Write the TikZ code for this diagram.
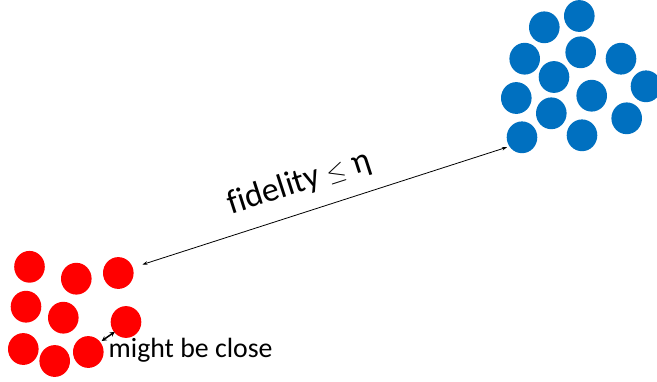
\documentclass[tikz,border=0pt]{standalone}
\usepackage{fontspec}
\setmainfont{Carlito}[Ligatures=NoCommon]
\usetikzlibrary{shapes.geometric,arrows.meta}
\definecolor{dotblue}{HTML}{0070C0}
\definecolor{dotred}{HTML}{FF0000}
\tikzset{
  dot/.style={ellipse,inner sep=0pt,minimum width=30.6pt,minimum height=31.8pt,draw=none},
  bluedot/.style={dot,fill=dotblue},
  reddot/.style={dot,fill=dotred},
  link/.style={line width=0.8pt,{Stealth[length=5pt,width=3.5pt]}-{Stealth[length=5pt,width=3.5pt]}},
  near/.style={line width=1.5pt,{Stealth[length=5pt,width=5pt]}-{Stealth[length=5pt,width=5pt]}},
  biglabel/.style={inner sep=0pt,font=\fontsize{34}{40}\selectfont},
  smalllabel/.style={inner sep=0pt,font=\fontsize{27.8}{32}\selectfont}
}
\begin{document}
\begin{tikzpicture}[x=1pt,y=-1pt]
\useasboundingbox (0,0) rectangle (657,381);
% blue cluster
\node[bluedot] (b1) at (544.3,27.3) {};
\node[bluedot] (b2) at (579.3,16) {};
\node[bluedot] (b3) at (524.7,58.7) {};
\node[bluedot] (b4) at (580.7,52.3) {};
\node[bluedot] (b5) at (621,58.7) {};
\node[bluedot] (b6) at (554,77) {};
\node[bluedot] (b7) at (646,86.3) {};
\node[bluedot] (b8) at (516.3,98) {};
\node[bluedot] (b9) at (591.7,95.7) {};
\node[bluedot] (b10) at (551.3,113.3) {};
\node[bluedot] (b11) at (626.7,118.3) {};
\node[bluedot] (b12) at (522,137.3) {};
\node[bluedot] (b13) at (582,135.3) {};
% red cluster
\node[reddot] (r1) at (29.5,266.8) {};
\node[reddot] (r2) at (76.3,278.7) {};
\node[reddot] (r3) at (118.3,273) {};
\node[reddot] (r4) at (26,306.7) {};
\node[reddot] (r5) at (63.3,317.7) {};
\node[reddot] (r6) at (126,322) {};
\node[reddot] (r7) at (23.3,349) {};
\node[reddot] (r8) at (54.7,361) {};
\node[reddot] (r9) at (88.3,352) {};
% main connector
\coordinate (aS) at (142.5,264.5);
\coordinate (aE) at (507,147.2);
\draw[link] (aS) -- (aE);
\node[biglabel,anchor=base,rotate=17.85] (fid) at (302,191.5) {fidelity $\leq$ η};
% close pair
\coordinate (cS) at (101.7,341);
\coordinate (cE) at (114.8,331.8);
\draw[near] (cS) -- (cE);
\node[smalllabel,anchor=base west] (mbc) at (108.5,357) {might be close};
\end{tikzpicture}
\end{document}
